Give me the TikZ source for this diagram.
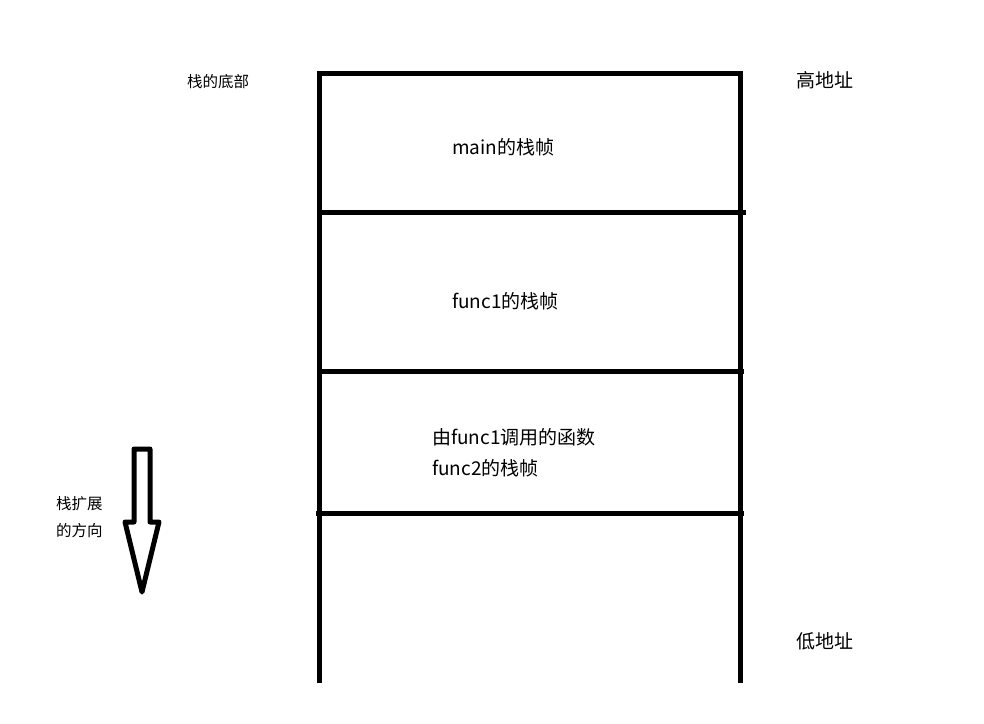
\documentclass[tikz,border=0pt]{standalone}
\usepackage{fontspec}
\setmainfont{Noto Sans CJK SC}
\begin{document}
\begin{tikzpicture}[x=1pt,y=-1pt,
  wall/.style={line width=5pt,black},
  big/.style={font=\fontsize{19}{22}\selectfont,inner sep=0pt,anchor=west},
  small/.style={font=\fontsize{15.5}{27}\selectfont,inner sep=0pt},
  arrowshape/.style={line width=5pt,line join=round}]
\useasboundingbox (0,0) rectangle (984,723);
% coordinates
\coordinate (tl) at (319,73);
\coordinate (tr) at (740,73);
\coordinate (bl) at (319,683);
\coordinate (br) at (740,683);
\coordinate (a1) at (317,212); \coordinate (b1) at (746,212);
\coordinate (a2) at (319,371); \coordinate (b2) at (744,371);
\coordinate (a3) at (316,513); \coordinate (b3) at (744,513);
\draw[wall] (bl) -- (tl) -- (tr) -- (br);
\draw[wall] (a1) -- (b1);
\draw[wall] (a2) -- (b2);
\draw[wall] (a3) -- (b3);
% texts
\node[small] (bottom) at (218,82) {栈的底部};
\node[big] (high) at (796,80) {高地址};
\node[big] (low) at (796,641) {低地址};
\node[big] (mainf) at (452,147) {main的栈帧};
\node[big] (f1) at (452,301) {func1的栈帧};
\node[big] (f2a) at (432,437) {由func1调用的函数};
\node[big] (f2b) at (432,468) {func2的栈帧};
\node[small,align=left,anchor=west] (dir) at (56,517) {栈扩展\\的方向};
% arrow
\draw[arrowshape] (134,449) -- (150,449) -- (150,522) -- (159,522) -- (142,592)
  -- (125,522) -- (134,522) -- cycle;
\end{tikzpicture}
\end{document}
